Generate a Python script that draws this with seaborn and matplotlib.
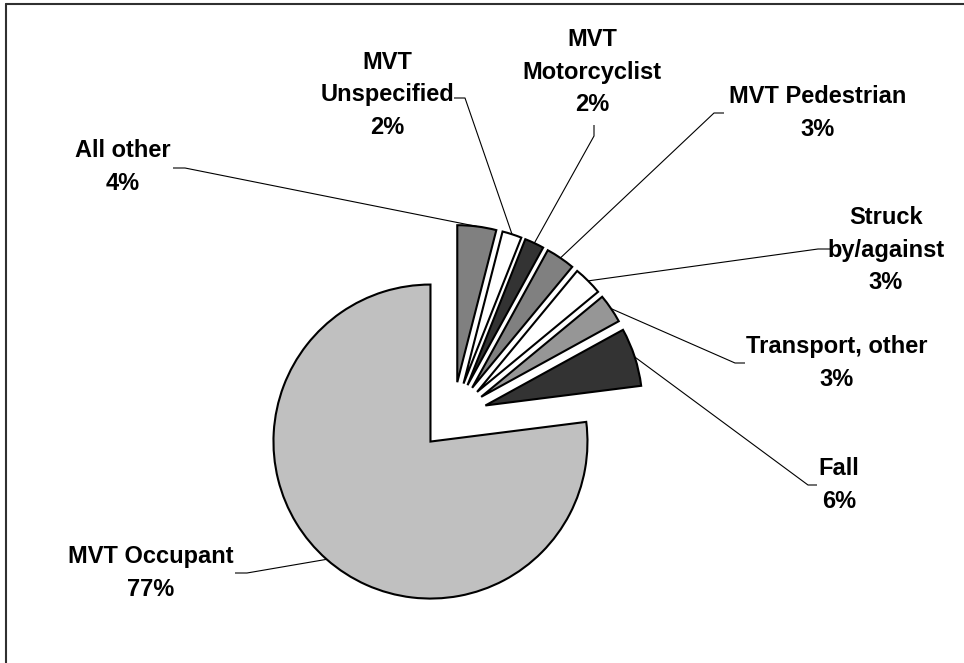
import numpy as np
import matplotlib
matplotlib.use("Agg")
import matplotlib.pyplot as plt
import seaborn as sns

# data (share of cases, %), drawn counter-clockwise from 12 o'clock
categories = ["MVT Occupant", "Fall", "Transport, other", "Struck\nby/against",
              "MVT Pedestrian", "MVT\nMotorcyclist", "MVT\nUnspecified", "All other"]
values = [77, 6, 3, 3, 3, 2, 2, 4]
colors = ["#C0C0C0", "#333333", "#969696", "#FFFFFF",
          "#808080", "#333333", "#FFFFFF", "#808080"]

# label layout in image pixels: text centre, then leader elbow (start, end)
label_pos = [(151, 573), (839, 485), (837, 363), (886, 250),
             (818, 113), (592, 72), (387, 95), (123, 167)]
elbows = [((235, 573), (247, 573)), ((817, 485), (808, 485)),
          ((745, 363), (735, 363)), ((830, 249), (818, 249)),
          ((724, 113), (714, 113)), ((594, 125), (594, 136)),
          ((454, 98), (465, 98)), ((173, 168), (185, 168))]

W, H = 964, 663
CX, CY, R = 453, 416, 157   # pie centre / radius in image pixels


def px(x, y):
    # image pixel -> data units (pie radius = 1)
    return (x - CX) / R, (CY - y) / R


sns.set_theme(style="white")
plt.rcParams["font.family"] = ["Liberation Sans", "DejaVu Sans"]

fig = plt.figure(figsize=(W / 100, H / 100), dpi=100)
ax = fig.add_axes([0, 0, 1, 1])

wedges, _ = ax.pie(values, colors=colors, startangle=90, counterclock=True,
                   explode=[0.217] * len(values), radius=1,
                   wedgeprops=dict(edgecolor="black", linewidth=1.5))

for w, name, val, (tx, ty), (e0, e1) in zip(wedges, categories, values, label_pos, elbows):
    mid = np.deg2rad((w.theta1 + w.theta2) / 2)
    arc = (w.center[0] + w.r * np.cos(mid), w.center[1] + w.r * np.sin(mid))
    p0, p1 = px(*e0), px(*e1)
    ax.plot([p0[0], p1[0], arc[0]], [p0[1], p1[1], arc[1]],
            color="black", lw=0.8, solid_capstyle="butt")
    x, y = px(tx, ty)
    ax.text(x, y, f"{name}\n{val}%", ha="center", va="center", color="black",
            fontsize=17, fontweight="bold", linespacing=1.55)

ax.set_xlim(px(0, 0)[0], px(W, 0)[0])
ax.set_ylim(px(0, H)[1], px(0, 0)[1])
ax.set_aspect("auto")
ax.axis("off")

# chart-area border (only left and top edges fall inside the image)
fig.add_artist(plt.Line2D([6 / W, 6 / W], [0, 1 - 4 / H], color="#303030", lw=1.5,
                          transform=fig.transFigure))
fig.add_artist(plt.Line2D([6 / W, 1], [1 - 4 / H, 1 - 4 / H], color="#303030", lw=1.5,
                          transform=fig.transFigure))

fig.savefig("out.png", dpi=100, facecolor="white")
